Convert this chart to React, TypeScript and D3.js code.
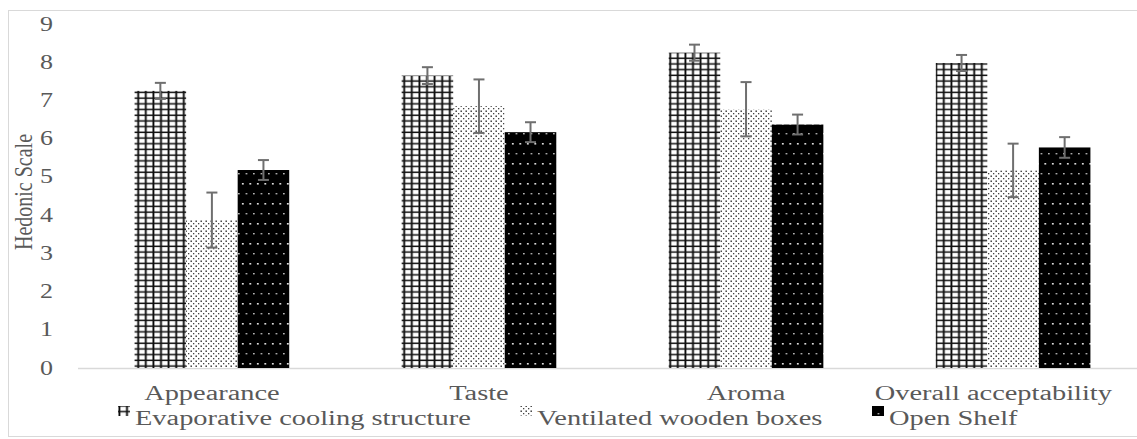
import React, { useRef, useEffect } from "react";
import * as d3 from "d3";

const categories = ["Appearance", "Taste", "Aroma", "Overall acceptability"];
const seriesNames = ["Evaporative cooling structure", "Ventilated wooden boxes", "Open Shelf"];
const evapValues = [7.25, 7.65, 8.25, 7.98];
const evapErrors = [0.21, 0.22, 0.21, 0.21];
const ventValues = [3.87, 6.85, 6.77, 5.17];
const ventErrors = [0.72, 0.7, 0.71, 0.7];
const openValues = [5.18, 6.17, 6.37, 5.77];
const openErrors = [0.26, 0.26, 0.26, 0.27];
const yTicks = [0, 1, 2, 3, 4, 5, 6, 7, 8, 9];

const W = 1137,
	H = 439;
const SX = 1.42; // the picture is stretched sideways
const TEXT = "#595959";
const FONT = "'Liberation Serif', 'Times New Roman', serif";

const drawChart = (svgRef) => {
	const svg = d3.select(svgRef.current);
	svg.selectAll("*").remove();

	const defs = svg.append("defs");

	// grid pattern
	const grid = defs
		.append("pattern")
		.attr("id", "p-grid")
		.attr("patternUnits", "userSpaceOnUse")
		.attr("width", 7.6)
		.attr("height", 5.7);
	grid.append("rect").attr("width", 7.6).attr("height", 5.7).attr("fill", "#fff");
	grid.append("rect").attr("x", 0.5).attr("width", 1.8).attr("height", 5.7).attr("fill", "#000");
	grid.append("rect").attr("y", 0.5).attr("width", 7.6).attr("height", 1.5).attr("fill", "#111");

	// sparse dots
	const dots = defs
		.append("pattern")
		.attr("id", "p-dots")
		.attr("patternUnits", "userSpaceOnUse")
		.attr("width", 5)
		.attr("height", 5);
	dots.append("rect").attr("width", 5).attr("height", 5).attr("fill", "#fff");
	dots.append("rect").attr("x", 0.5).attr("y", 0.5).attr("width", 1.4).attr("height", 1.4).attr("fill", "#222");
	dots.append("rect").attr("x", 3).attr("y", 3).attr("width", 1.3).attr("height", 1.3).attr("fill", "#444");

	// black with white dots
	const black = defs
		.append("pattern")
		.attr("id", "p-black")
		.attr("patternUnits", "userSpaceOnUse")
		.attr("width", 7.5)
		.attr("height", 20);
	black.append("rect").attr("width", 7.5).attr("height", 20).attr("fill", "#000");
	black.append("rect").attr("x", 2).attr("y", 3).attr("width", 1.6).attr("height", 1.6).attr("fill", "#fff");
	black.append("rect").attr("x", 5.7).attr("y", 13).attr("width", 1.4).attr("height", 1.4).attr("fill", "#ddd");

	const fills = ["url(#p-grid)", "url(#p-dots)", "url(#p-black)"];
	const values = [evapValues, ventValues, openValues];
	const errors = [evapErrors, ventErrors, openErrors];

	// outer border
	svg
		.append("rect")
		.attr("x", 8.5)
		.attr("y", 10.5)
		.attr("width", 1140)
		.attr("height", 426)
		.attr("fill", "none")
		.attr("stroke", "#d9d9d9");

	const x = d3
		.scaleBand()
		.domain(categories)
		.range([78.5, 1146.5])
		.paddingInner(0.421)
		.paddingOuter(0.21);
	const xs = d3.scaleBand().domain(d3.range(3)).range([0, x.bandwidth()]);
	const y = d3.scaleLinear().domain([0, 9]).range([368, 24]);

	// baseline
	svg
		.append("line")
		.attr("x1", 78)
		.attr("x2", W)
		.attr("y1", y(0) + 0.5)
		.attr("y2", y(0) + 0.5)
		.attr("stroke", "#d9d9d9")
		.attr("stroke-width", 1.5);

	// y tick labels
	svg
		.append("g")
		.selectAll("text")
		.data(yTicks)
		.enter()
		.append("text")
		.attr("transform", (d) => `translate(53,${y(d) + 6.5}) scale(1.3,1)`)
		.attr("text-anchor", "end")
		.attr("font-family", FONT)
		.attr("font-size", 20)
		.attr("fill", TEXT)
		.text((d) => d);

	// y axis title
	svg
		.append("text")
		.attr("transform", `translate(32,192) scale(1.3,1) rotate(-90)`)
		.attr("text-anchor", "middle")
		.attr("font-family", FONT)
		.attr("font-size", 20)
		.attr("fill", TEXT)
		.text("Hedonic Scale");

	// bars
	values.forEach((vals, s) => {
		svg
			.append("g")
			.selectAll("rect")
			.data(vals)
			.enter()
			.append("rect")
			.attr("x", (d, i) => x(categories[i]) + xs(s))
			.attr("y", (d) => y(d))
			.attr("width", xs.bandwidth())
			.attr("height", (d) => y(0) - y(d))
			.attr("fill", fills[s]);
	});

	// error bars
	values.forEach((vals, s) => {
		const g = svg.append("g").attr("stroke", "#6f6f6f").attr("stroke-width", 2);
		vals.forEach((v, i) => {
			const cx = x(categories[i]) + xs(s) + xs.bandwidth() / 2;
			const e = errors[s][i];
			g.append("line").attr("x1", cx).attr("x2", cx).attr("y1", y(v + e)).attr("y2", y(v - e));
			g.append("line").attr("x1", cx - 5.5).attr("x2", cx + 5.5).attr("y1", y(v + e)).attr("y2", y(v + e));
			g.append("line").attr("x1", cx - 5.5).attr("x2", cx + 5.5).attr("y1", y(v - e)).attr("y2", y(v - e));
		});
	});

	// category labels
	const labels = svg
		.append("g")
		.selectAll("text")
		.data(categories)
		.enter()
		.append("text")
		.attr("font-family", FONT)
		.attr("font-size", 20)
		.attr("fill", TEXT)
		.attr("text-anchor", "middle")
		.text((d) => d);
	labels.attr("transform", function (d) {
		let cx = x(d) + x.bandwidth() / 2;
		const half = (this.getComputedTextLength() * SX) / 2;
		if (cx + half > W - 25) cx = W - 25 - half;
		return `translate(${cx},400) scale(${SX},1)`;
	});

	// legend
	const legendX = [118, 520, 872];
	const legend = svg
		.append("g")
		.selectAll("g")
		.data(seriesNames)
		.enter()
		.append("g")
		.attr("transform", (d, i) => `translate(${legendX[i]},0)`);
	legend
		.append("rect")
		.attr("x", 0)
		.attr("y", 406)
		.attr("width", 12)
		.attr("height", 10)
		.attr("fill", (d, i) => fills[i]);
	legend
		.append("text")
		.attr("transform", `translate(17,425) scale(${SX},1)`)
		.attr("font-family", FONT)
		.attr("font-size", 20)
		.attr("fill", TEXT)
		.text((d) => d);
};

const App = () => {
	const svg = useRef(null);

	useEffect(() => {
		drawChart(svg);
	}, []);

	return (
		<svg
			ref={svg}
			width={W}
			height={H}
			style={{ position: "absolute", left: 0, top: 0, background: "#fff" }}
		/>
	);
};

export default App;
